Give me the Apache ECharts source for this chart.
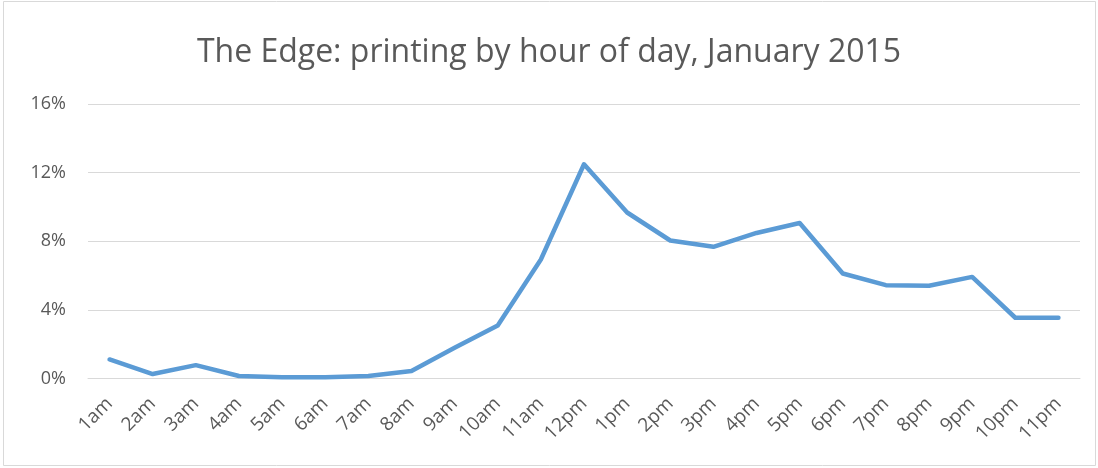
<!DOCTYPE html>
<html><head><meta charset="utf-8">
<script src="https://cdn.jsdelivr.net/npm/echarts@6/dist/echarts.min.js"></script>
<style>html,body{margin:0;padding:0;background:#fff}#c{width:1098px;height:468px}</style>
</head><body><div id="c"></div>
<script>
const categories = ['1am','2am','3am','4am','5am','6am','7am','8am','9am','10am','11am','12pm','1pm','2pm','3pm','4pm','5pm','6pm','7pm','8pm','9pm','10pm','11pm'];
const values = [1.12,0.27,0.79,0.16,0.08,0.08,0.16,0.45,1.80,3.10,6.94,12.49,9.68,8.05,7.68,8.49,9.07,6.13,5.45,5.41,5.93,3.55,3.55];
const yTicks = [0,4,8,12,16];
const titleText = 'The Edge: printing by hour of day, January 2015';

const chart = echarts.init(document.getElementById('c'), null, {renderer:'canvas'});
const font = "'Open Sans', 'Noto Sans', sans-serif";
chart.setOption({
  animation:false,
  backgroundColor:'#fff',
  title:{text:titleText,left:'center',top:32,textStyle:{fontFamily:font,fontSize:32,fontWeight:'normal',color:'#595959'}},
  graphic:[{type:'rect',shape:{x:3.5,y:1.5,width:1092,height:464},style:{fill:'none',stroke:'#d9d9d9',lineWidth:1},silent:true}],
  grid:{left:88,right:18,top:104,bottom:89.3},
  xAxis:{type:'category',data:categories,boundaryGap:true,
    axisLine:{show:true,lineStyle:{color:'#d9d9d9',width:1}},axisTick:{show:false},
    axisLabel:{rotate:45,interval:0,fontFamily:font,fontSize:19,color:'#595959',margin:22}},
  yAxis:{type:'value',min:yTicks[0],max:yTicks[yTicks.length-1],interval:4,
    axisLine:{show:false},axisTick:{show:false},
    splitLine:{lineStyle:{color:'#d9d9d9',width:1}},
    axisLabel:{formatter:v=>v+'%',fontFamily:font,fontSize:18,color:'#595959',margin:22}},
  series:[{type:'line',data:values,symbol:'none',lineStyle:{color:'#5b9bd5',width:4.5,cap:'round',join:'round'}}]
});
</script></body></html>
